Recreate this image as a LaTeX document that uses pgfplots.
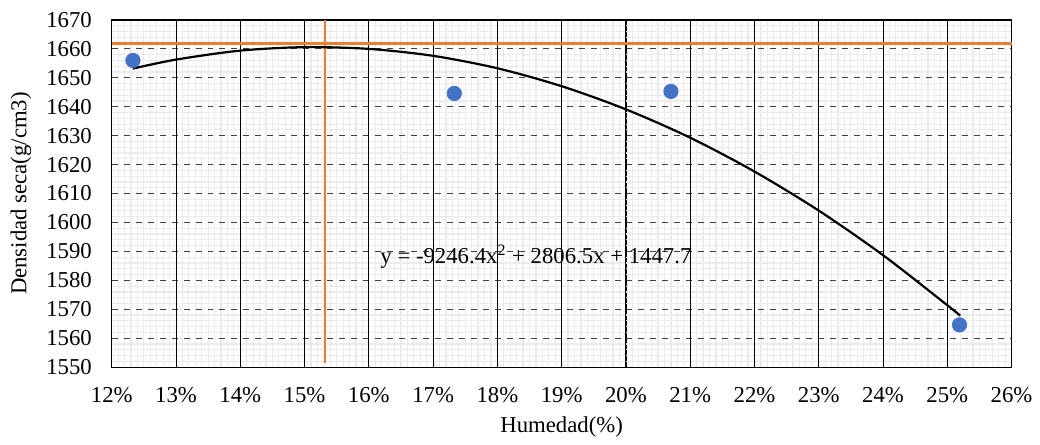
\documentclass[border=0pt]{standalone}
\usepackage{fontspec}
\setmainfont{Liberation Serif}
\usepackage{pgfplots}
\pgfplotsset{compat=1.18}
\definecolor{ptblue}{HTML}{4472C4}
\definecolor{reforange}{HTML}{ED7D31}
\begin{document}
\fontsize{11.4}{13}\selectfont
\begin{tikzpicture}
\path (-56pt,-39pt) rectangle (464pt,184pt);
\begin{axis}[
    at={(0,0)}, anchor=south west,
    scale only axis,
    width=451pt, height=174pt,
    xmin=12, xmax=26, ymin=1550, ymax=1670,
    xtick={12,13,14,15,16,17,18,19,20,21,22,23,24,25,26},
    ytick={1550,1560,...,1670},
    xticklabel={\pgfmathprintnumber{\tick}\%},
    /pgf/number format/assume math mode=true,
    /pgf/number format/1000 sep={},
    tick label style={font=\fontsize{11.4}{13}\selectfont},
    label style={font=\fontsize{11.4}{13}\selectfont},
    major tick length=0pt, minor tick length=0pt,
    minor x tick num=9, minor y tick num=4,
    grid=both,
    major x grid style={solid, black, line width=0.4pt},
    major y grid style={black!75, dashed, line width=0.4pt},
    minor x grid style={solid, gray!16, line width=0.6pt},
    minor y grid style={solid, gray!16, line width=0.6pt},
    extra x ticks={13,14,15,16,17,18,19,20,21,22,23,24,25},
    extra x tick labels={},
    extra x tick style={grid=major, major x grid style={solid, black, line width=0.45pt}},
    axis line style={black, line width=0.6pt},
    xlabel={Humedad(\%)},
    ylabel={Densidad seca(g/cm3)},
    xlabel style={at={(axis description cs:0.5,-0.172)}, anchor=center},
    ylabel style={at={(axis description cs:-0.101,0.5)}, anchor=center},
    xticklabel style={yshift=-6pt},
    yticklabel style={xshift=-6pt},
    clip=false,
]
% orange reference lines
\addplot[reforange, line width=1.2pt] coordinates {(12,1661.8) (26,1661.8)};
\addplot[reforange, line width=1.2pt] coordinates {(15.32,1670) (15.32,1551.5)};
% trendline
\addplot[black, line width=1.1pt, smooth] coordinates {
(12.33,1653.2) (13,1656.3) (14,1659.4) (15,1660.6) (16,1660.0)
(17,1657.6) (18,1653.3) (19,1647.1) (20,1639.1) (21,1629.3)
(22,1617.6) (23,1604.1) (24,1588.7) (25,1571.4) (25.2,1567.8)
};
% data points
\addplot[only marks, mark=*, mark size=3.6pt, draw=ptblue, fill=ptblue] coordinates {
(12.33,1656.0) (17.33,1644.6) (20.70,1645.3) (25.19,1564.6)
};
\node at (axis cs:18.6,1588.3) {y = -9246.4x\textsuperscript{2} + 2806.5x + 1447.7};
\end{axis}
\end{tikzpicture}
\end{document}
